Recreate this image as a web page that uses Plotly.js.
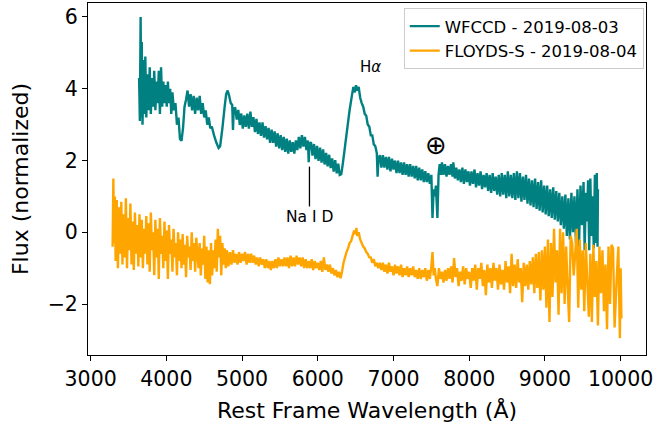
<!DOCTYPE html>
<html>
<head>
<meta charset="utf-8">
<script src="https://cdn.plot.ly/plotly-3.0.1.min.js"></script>
<style>html,body{margin:0;padding:0;background:#fff;}#chart{width:658px;height:429px;}</style>
</head>
<body>
<div id="chart"></div>
<script>
// WFCCD - 2019-08-03 spectrum (rest wavelength in Å, normalized flux)
var wfccdWl = [3640,3650,3660,3668,3675,3685,3700,3712,3722,3735,3750,3765,3780,3795,3810,3825,3840,3855,3870,3885,3900,3915,3930,3945,3960,3975,3990,4005,4020,4035,4050,4065,4080,4100,4120,4140,4160,4180,4200,4220,4240,4260,4280,4300,4320,4340,4360,4380,4400,4420,4440,4460,4480,4500,4520,4540,4560,4580,4600,4630,4660,4690,4710,4740,4770,4790,4810,4830,4850,4870,4880,4890,4910,4930,4950,4970,4990,5010,5030,5050,5070,5090,5110,5130,5150,5170,5190,5210,5230,5250,5270,5290,5310,5330,5350,5370,5390,5410,5430,5450,5470,5490,5510,5530,5550,5570,5590,5610,5630,5650,5670,5690,5710,5730,5750,5770,5790,5810,5830,5850,5870,5880,5890,5910,5930,5950,5970,5990,6010,6030,6050,6070,6090,6110,6130,6150,6170,6190,6210,6230,6250,6270,6290,6310,6330,6360,6390,6420,6450,6470,6490,6505,6520,6540,6560,6580,6600,6620,6640,6660,6680,6700,6720,6740,6760,6780,6790,6800,6820,6840,6860,6880,6900,6920,6940,6960,6980,7000,7020,7040,7060,7080,7100,7120,7140,7160,7180,7200,7220,7240,7260,7280,7300,7320,7340,7360,7380,7400,7420,7440,7460,7480,7500,7515,7530,7545,7560,7580,7595,7610,7625,7640,7660,7680,7700,7720,7740,7760,7780,7790,7810,7830,7850,7870,7890,7910,7930,7950,7970,7990,8010,8030,8050,8070,8090,8110,8130,8150,8170,8190,8210,8230,8250,8270,8290,8310,8330,8350,8370,8390,8410,8430,8450,8470,8490,8510,8530,8550,8570,8590,8610,8630,8650,8670,8690,8710,8730,8750,8770,8790,8810,8830,8850,8870,8890,8910,8930,8950,8970,8990,9010,9030,9050,9070,9090,9110,9130,9150,9170,9190,9210,9230,9250,9270,9290,9310,9330,9350,9370,9390,9410,9430,9450,9470,9490,9510,9525,9540,9555,9570,9585,9600,9615,9630,9645,9660,9675,9685,9695,9700];
var wfccdFlux = [4.3,3.1,6.0,3.2,5.3,3.0,4.8,3.3,4.9,3.2,4.4,3.4,4.6,3.3,4.3,3.5,4.5,3.4,4.2,3.6,4.5,3.3,4.6,3.5,4.2,3.6,4.1,3.5,4.2,3.6,4.0,3.3,3.9,3.4,3.6,3.0,3.2,2.6,2.55,2.9,3.5,3.7,3.95,3.5,3.85,3.4,3.8,3.3,3.75,3.4,3.8,3.3,3.6,3.2,3.4,3.0,3.2,2.9,2.95,2.7,2.5,2.35,2.4,2.9,3.5,3.85,3.95,3.8,3.6,3.55,2.85,3.45,3.46,3.14,3.41,2.99,3.31,2.89,3.26,2.94,3.31,2.89,3.36,2.94,3.21,2.79,3.16,2.74,3.06,2.69,3.06,2.64,2.96,2.59,2.91,2.49,2.86,2.49,2.81,2.39,2.76,2.34,2.71,2.29,2.66,2.24,2.61,2.19,2.56,2.24,2.51,2.19,2.56,2.29,2.66,2.34,2.71,2.39,2.66,2.29,2.56,1.95,2.46,2.51,2.14,2.46,2.04,2.41,1.99,2.36,1.94,2.31,1.89,2.21,1.84,2.16,1.79,2.06,1.69,2.01,1.64,1.91,1.6,1.62,1.9,2.4,2.9,3.4,3.8,4.05,3.9,4.1,3.95,4.05,3.75,3.6,3.5,3.3,3.25,3.0,2.95,2.7,2.7,2.45,2.4,2.2,1.55,2.0,2.15,1.8,2.15,1.8,2.1,1.75,2.1,1.7,2.05,1.75,2.0,1.65,2.0,1.65,1.95,1.6,1.95,1.6,1.9,1.55,1.9,1.55,1.85,1.5,1.85,1.45,1.8,1.45,1.75,1.4,1.7,1.4,1.65,1.35,1.6,0.4,1.2,1.0,1.3,0.4,1.6,1.9,1.6,1.95,1.6,1.9,1.55,1.85,1.6,1.9,1.55,1.95,1.5,1.8,1.45,1.75,1.4,1.8,1.35,1.75,1.4,1.7,1.3,1.7,1.35,1.75,1.25,1.65,1.3,1.7,1.2,1.6,1.25,1.65,1.15,1.6,1.1,1.65,1.15,1.55,1.05,1.6,1.0,1.65,1.05,1.6,0.95,1.7,1.0,1.6,0.95,1.65,0.9,1.7,0.95,1.65,0.85,1.55,0.9,1.6,0.8,1.5,0.75,1.45,0.7,1.5,0.65,1.4,0.6,1.45,0.55,1.3,0.5,1.3,0.45,1.2,0.4,1.25,0.35,1.15,0.3,1.1,0.2,1.0,0.1,1.05,-0.1,0.95,-0.2,1.1,0.0,1.0,-0.3,1.2,-0.4,1.3,0.2,1.4,-0.5,1.1,0.3,1.45,-0.5,1.5,-0.1,1.0,-0.45,1.6,-0.3,1.65,-0.4,1.2];

// FLOYDS-S - 2019-08-04 spectrum
var floydsWl = [3290,3300,3310,3320,3330,3345,3360,3375,3390,3405,3420,3435,3450,3465,3480,3495,3510,3525,3540,3555,3570,3585,3600,3615,3630,3645,3660,3675,3690,3705,3720,3735,3750,3765,3780,3795,3810,3825,3840,3855,3870,3885,3900,3915,3930,3945,3960,3975,3990,4005,4020,4035,4050,4065,4080,4095,4110,4125,4140,4155,4170,4185,4200,4215,4230,4245,4260,4275,4290,4305,4320,4335,4350,4365,4380,4395,4410,4425,4440,4455,4470,4485,4500,4515,4530,4545,4560,4575,4590,4605,4620,4635,4650,4665,4680,4695,4710,4725,4740,4755,4770,4785,4800,4820,4840,4860,4880,4900,4920,4940,4960,4980,5000,5020,5040,5060,5080,5100,5120,5140,5160,5180,5200,5220,5240,5260,5280,5300,5320,5340,5360,5380,5400,5420,5440,5460,5480,5500,5520,5540,5560,5580,5600,5620,5640,5660,5680,5700,5720,5740,5760,5780,5800,5820,5840,5860,5880,5900,5920,5940,5960,5980,6000,6020,6040,6060,6080,6100,6120,6140,6160,6180,6200,6220,6240,6260,6280,6300,6320,6340,6360,6380,6400,6420,6440,6460,6480,6500,6510,6520,6540,6560,6580,6600,6620,6640,6660,6680,6700,6720,6740,6760,6780,6800,6820,6840,6860,6880,6900,6920,6940,6960,6980,7000,7020,7040,7060,7080,7100,7120,7140,7160,7180,7200,7220,7240,7260,7280,7300,7320,7340,7360,7380,7400,7420,7440,7460,7480,7500,7515,7530,7545,7560,7580,7600,7620,7640,7660,7680,7700,7720,7740,7760,7780,7800,7820,7840,7860,7880,7900,7920,7940,7960,7980,8000,8020,8040,8060,8080,8100,8120,8140,8160,8180,8200,8220,8240,8260,8280,8300,8320,8340,8360,8380,8400,8420,8440,8460,8480,8500,8520,8540,8560,8580,8600,8620,8640,8660,8680,8700,8720,8740,8760,8780,8800,8820,8840,8860,8880,8900,8920,8940,8960,8980,9000,9020,9040,9060,9080,9100,9120,9140,9160,9180,9200,9220,9240,9260,9280,9300,9320,9340,9360,9380,9400,9420,9440,9460,9480,9500,9520,9540,9560,9580,9600,9620,9640,9660,9680,9700,9720,9740,9760,9780,9800,9820,9840,9860,9880,9900,9920,9950,9970,9990,10000,10010];
var floydsFlux = [-0.4,1.5,-0.3,1.0,-0.8,0.9,-1.0,0.7,-0.6,0.85,-0.9,0.5,-0.7,0.95,-1.0,0.4,-0.5,0.8,-0.9,0.3,-1.05,0.55,-0.6,0.2,-0.95,0.5,-0.7,0.35,-1.0,0.1,-0.6,0.45,-0.9,0.25,-1.1,0.55,-0.5,0.0,-1.2,0.35,-0.7,0.1,-1.3,0.4,-0.6,-0.1,-1.0,0.3,-0.8,0.05,-1.3,0.2,-0.6,-0.2,-1.1,0.1,-0.7,-0.3,-1.2,0.0,-0.8,-0.2,-1.0,-0.05,-0.9,-0.35,-1.25,-0.1,-0.7,-0.4,-1.05,0.0,-0.8,-0.3,-1.1,-0.15,-0.6,-1.0,-0.3,-1.2,-0.45,-0.9,-0.1,-1.3,-0.4,-1.4,-0.5,-1.45,-0.3,-1.2,-0.5,-1.0,-0.2,-1.1,0.1,-0.7,-0.1,-1.2,-0.3,-0.9,-0.45,-1.0,-0.5,-0.95,-0.55,-0.9,-0.5,-0.85,-0.6,-0.9,-0.55,-0.85,-0.6,-0.8,-0.55,-0.9,-0.6,-0.85,-0.6,-0.85,-0.65,-0.9,-0.7,-0.95,-0.7,-0.9,-0.75,-1.0,-0.75,-1.0,-0.8,-1.05,-0.8,-1.0,-0.75,-1.0,-0.7,-0.95,-0.75,-0.95,-0.7,-0.95,-0.7,-1.0,-0.65,-0.95,-0.7,-0.95,-0.65,-0.9,-0.7,-0.95,-0.7,-1.0,-0.75,-1.0,-0.8,-1.0,-0.75,-1.05,-0.8,-1.0,-0.85,-1.05,-0.8,-1.1,-0.7,-1.05,-0.9,-1.1,-0.9,-1.15,-1.0,-1.2,-1.05,-1.25,-1.1,-1.28,-1.1,-0.85,-0.7,-0.55,-0.45,-0.3,-0.25,-0.1,0.05,-0.05,0.12,-0.1,0.0,-0.2,-0.3,-0.4,-0.45,-0.55,-0.6,-0.7,-0.7,-0.85,-0.75,-0.95,-0.85,-1.0,-0.85,-1.05,-0.85,-1.1,-0.9,-1.15,-0.85,-1.1,-0.95,-1.2,-0.9,-1.15,-0.95,-1.2,-0.9,-1.25,-1.0,-1.2,-0.95,-1.25,-1.0,-1.2,-0.95,-1.25,-1.05,-1.3,-1.0,-1.3,-1.05,-1.25,-1.0,-1.35,-1.05,-1.3,-0.95,-0.55,-1.2,-1.0,-1.3,-1.5,-1.0,-1.3,-1.1,-1.4,-1.05,-1.35,-1.0,-1.3,-0.95,-1.4,-0.72,-1.25,-1.0,-1.5,-1.1,-1.35,-0.95,-1.45,-1.0,-1.3,-1.1,-1.55,-1.0,-1.35,-0.9,-1.6,-1.0,-1.3,-0.85,-1.5,-1.05,-1.75,-0.9,-1.4,-1.0,-1.55,-0.85,-1.35,-1.0,-1.6,-0.9,-1.45,-1.05,-1.6,-0.8,-1.4,-0.95,-1.7,-0.6,-1.5,-0.9,-1.55,-0.75,-1.4,-1.0,-1.95,-0.85,-1.5,-0.9,-1.6,-0.8,-1.45,-0.7,-1.7,-0.6,-1.55,-0.55,-1.9,-0.5,-1.6,-0.4,-2.1,-0.2,-2.5,-0.3,-1.8,0.1,-1.4,-0.5,-2.3,0.1,-1.7,0.0,-2.0,-0.4,-1.5,-2.5,-0.1,-0.3,-1.2,-0.6,0.1,-2.1,-0.2,-1.6,-0.5,-2.2,-0.3,-1.4,-2.35,-0.6,-2.5,-0.35,-1.8,-0.8,-2.6,-0.4,-1.7,-0.5,-2.2,-0.9,-2.7,-0.4,-2.0,-0.35,-0.45,-2.65,-1.2,-0.4,-2.95,-1.0,-2.4,-1.0,-2.1];

var xTicks = [3000,4000,5000,6000,7000,8000,9000,10000];
var yTicks = [-2,0,2,4,6];

// annotation anchors (data coordinates)
var haLabel = {wl: 6698, flux: 4.61, text: 'H<i>α</i>'};
var naLabel = {wl: 5895, flux: 0.44, text: 'Na I D'};
var naMarker = {wl: 5890, y0: 0.72, y1: 1.83};
var earthLabel = {wl: 7567, flux: 2.44, text: '⊕'};

var traces = [
  {x: wfccdWl, y: wfccdFlux, type: 'scatter', mode: 'lines', name: 'WFCCD - 2019-08-03',
   line: {color: '#008080', width: 2.4, simplify: false}},
  {x: floydsWl, y: floydsFlux, type: 'scatter', mode: 'lines', name: 'FLOYDS-S - 2019-08-04',
   line: {color: '#FFA500', width: 2.4, simplify: false}}
];

var font = 'DejaVu Sans, sans-serif';
var layout = {
  width: 658, height: 429,
  margin: {l: 88, r: 12, t: 3, b: 74, pad: 0},
  paper_bgcolor: '#fff', plot_bgcolor: '#fff',
  font: {family: font, color: '#000'},
  showlegend: true,
  legend: {x: 0.996, y: 0.986, xanchor: 'right', yanchor: 'top',
    bgcolor: 'rgba(255,255,255,0.8)', bordercolor: '#cccccc', borderwidth: 1,
    font: {family: font, size: 16.5, color: '#000'}},
  xaxis: {range: [2965, 10335], tickvals: xTicks, ticktext: xTicks.map(String),
    showgrid: false, zeroline: false, showline: true, mirror: true, linecolor: '#000', linewidth: 1,
    ticks: 'outside', ticklen: 5, tickwidth: 1, tickcolor: '#000',
    tickfont: {family: font, size: 20.5, color: '#000'},
    title: {text: 'Rest Frame Wavelength (Å)', font: {family: font, size: 22, color: '#000'}, standoff: 13}},
  yaxis: {range: [-3.42, 6.39], tickvals: yTicks,
    showgrid: false, zeroline: false, showline: true, mirror: true, linecolor: '#000', linewidth: 1,
    ticks: 'outside', ticklen: 5, tickwidth: 1, tickcolor: '#000',
    tickfont: {family: font, size: 20.5, color: '#000'},
    title: {text: 'Flux (normalized)', font: {family: font, size: 22, color: '#000'}, standoff: 12}},
  shapes: [{type: 'line', xref: 'x', yref: 'y', x0: naMarker.wl, x1: naMarker.wl,
    y0: naMarker.y0, y1: naMarker.y1, line: {color: '#000', width: 1.3}}],
  annotations: [
    {x: haLabel.wl, y: haLabel.flux, xref: 'x', yref: 'y', text: haLabel.text, showarrow: false,
     font: {family: font, size: 15, color: '#000'}},
    {x: naLabel.wl, y: naLabel.flux, xref: 'x', yref: 'y', text: naLabel.text, showarrow: false,
     font: {family: font, size: 15.5, color: '#000'}},
    {x: earthLabel.wl, y: earthLabel.flux, xref: 'x', yref: 'y', text: earthLabel.text, showarrow: false,
     font: {family: font, size: 26, color: '#000'}}
  ]
};

Plotly.newPlot('chart', traces, layout, {displayModeBar: false, staticPlot: true});
</script>
</body>
</html>
